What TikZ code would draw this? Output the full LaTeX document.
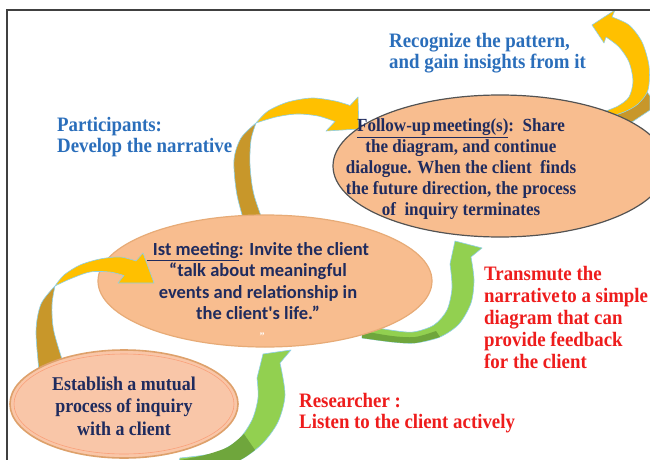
\documentclass[tikz,border=0pt]{standalone}
\usepackage{fontspec}
\setmainfont{Liberation Serif}
\newfontfamily\tnr{Liberation Serif}[FakeStretch=0.92]
\newfontfamily\calibfont{Carlito}
\usetikzlibrary{shapes.geometric}
\definecolor{blueT}{HTML}{2A6EBB}
\definecolor{redT}{HTML}{EE1C1C}
\definecolor{navyT}{HTML}{1F2B5E}
\definecolor{peach}{HTML}{F8BD8F}
\definecolor{peachL}{HTML}{F9C6A8}
\definecolor{yel}{HTML}{FFC000}
\definecolor{gold}{HTML}{C8972A}
\definecolor{grn}{HTML}{92D050}
\definecolor{grnD}{HTML}{6FA63C}
\definecolor{edgeB}{HTML}{8ECFE6}
\definecolor{frameC}{HTML}{404040}
\begin{document}
\begin{tikzpicture}[x=1pt,y=-1pt,
  arrowedge/.style={draw=edgeB, line width=0.6pt, line join=round},
  oval/.style={ellipse, inner sep=0pt, line width=1.2pt},
  bluetxt/.style={text=blueT, font=\tnr\fontsize{20.5}{21}\selectfont\bfseries, align=left, inner sep=0pt},
  redtxt/.style={text=redT, font=\tnr\fontsize{20.5}{22}\selectfont\bfseries, align=left, inner sep=0pt},
  navytxt/.style={text=navyT, font=\tnr\fontsize{18.5}{21}\selectfont\bfseries, align=center, inner sep=0pt}]
\useasboundingbox (0,0) rectangle (650,460);
\clip (0,0) rectangle (650,460);
\fill[white] (0,0) rectangle (650,460);

% Arrow C (top right, yellow)
\fill[gold, arrowedge] (647,92) -- (650,96) -- (650,110) -- (632,122) -- (608,122) -- (605,118) -- (624,112) -- (638,104) -- cycle;
\fill[yel, arrowedge] plot[smooth] coordinates {(612,17)(629,25)(642,42)(649,66)(648,90)(638,104)(624,112)(605,118)}
  -- plot[smooth] coordinates {(603,112)(618,106)(629,97)(633,81)(629,62)(619,47)(606,37)}
  -- (604,43) -- (592,25) -- (615,10) -- cycle;

% Arrow B (yellow, 1st meeting -> follow-up)
\fill[gold, arrowedge] plot[smooth] coordinates {(248,235)(237,195)(234,160)(241,138)(256,123)}
  -- plot[smooth] coordinates {(256,123)(251,140)(250,165)(254,195)(268,235)} -- cycle;
\fill[yel, arrowedge] plot[smooth] coordinates {(256,123)(268,111)(288,102)(312,98)(335,101)(350,105.5)}
  -- (358,97) -- (359,129) -- (326,131) -- (335,121.5)
  -- plot[smooth] coordinates {(335,121.5)(318,116)(297,114)(276,117)(256,123)} -- cycle;

% Arrow E (green, 1st meeting -> follow-up)
\fill[grn, arrowedge] plot[smooth] coordinates {(450,264)(452,288)(447,310)(434,325)(413,332)(390,330)(362,325)}
  -- plot[smooth] coordinates {(362,338)(392,342)(415,343)(440,337)(459,324)(471,303)(474,280)(471,257)}
  -- (482,248) -- (455,241) -- cycle;
\fill[grnD] plot[smooth] coordinates {(362,331)(392,336)(415,337)(436,331)}
  -- plot[smooth] coordinates {(440,337)(415,343)(392,342)(362,338)} -- cycle;

% Arrow D (green, establish -> 1st meeting)
\fill[grn, arrowedge] plot[smooth] coordinates {(257,378)(258,398)(252,420)(238,440)(215,453)(180,458)}
  -- (175,472) -- plot[smooth] coordinates {(215,468)(240,460)(262,444)(278,422)(285,395)(280,363)}
  -- (291,350) -- (263,354) -- cycle;
\fill[grnD] plot[smooth] coordinates {(244,434)(228,447)(205,455)(180,460)}
  -- (180,470) -- plot[smooth] coordinates {(215,468)(240,460)(255,450)} -- cycle;

% Ellipses
\node[oval, draw=frameC!90, fill=peach, minimum width=334pt, minimum height=142pt] (fu) at (500,166) {};
\node[oval, draw=peach!70!brown, fill=peach, minimum width=334pt, minimum height=132pt] (ist) at (265,281) {};

% Arrow A (yellow, establish -> 1st meeting)
\fill[gold, arrowedge] plot[smooth] coordinates {(40,380)(36,332)(41,304)(55,286)}
  -- plot[smooth] coordinates {(55,286)(52,305)(54,332)(68,378)} -- cycle;
\fill[yel, arrowedge] plot[smooth] coordinates {(55,286)(64,275)(80,265)(100,259)(120,257)(136,261)}
  -- (143,253) -- (154,283) -- (118,283) -- (124,275.5)
  -- plot[smooth] coordinates {(124,275.5)(110,272)(90,272)(70,279)(55,286)} -- cycle;

\node[oval, draw=peach!55!brown, fill=peachL, line width=1.6pt, minimum width=228pt, minimum height=108pt] (est) at (124,404) {};
\draw[peach!85!red, line width=0.6pt] (est.center) ellipse [x radius=110, y radius=50];

% Frame
\draw[frameC, line width=1.3pt] (7,470) |- (660,10);

% Texts
\node[navytxt] (futext) at (461,169) {\underline{Follow-up\hspace{2pt}meeting(s)}:\ \ Share\\the diagram, and continue\\dialogue. When the client\ \ finds\\the future direction, the process\\of\ \ inquiry terminates};
\node[text=navyT, font=\fontsize{18.5}{21.5}\selectfont\calibfont\bfseries, align=center, inner sep=0pt] (isttext) at (258,281) {\underline{\hspace{6pt}Ist meeting}: Invite the client\\“talk about meaningful\\events and relationship in\\the client's life.”};
\node[text=white, font=\fontsize{10}{10}\selectfont\bfseries, inner sep=0pt] (istq) at (262,336) {”};
\node[navytxt, font=\tnr\fontsize{19.5}{22.5}\selectfont\bfseries] (esttext) at (124,406) {Establish a mutual\\process of inquiry\\with a client};

\node[bluetxt, anchor=west] (recog) at (389,53) {Recognize the pattern,\\and gain insights from it};
\node[bluetxt, anchor=west] (partic) at (57,137) {Participants:\\Develop the narrative};
\node[redtxt, anchor=west] (transm) at (484,317) {Transmute the\\narrative\hspace{1.5pt}to a simple\\diagram that can\\provide feedback\\for the client};
\node[redtxt, anchor=west, font=\tnr\fontsize{20.5}{21}\selectfont\bfseries] (resear) at (299,413) {Researcher :\\Listen to the client actively};
\end{tikzpicture}
\end{document}
